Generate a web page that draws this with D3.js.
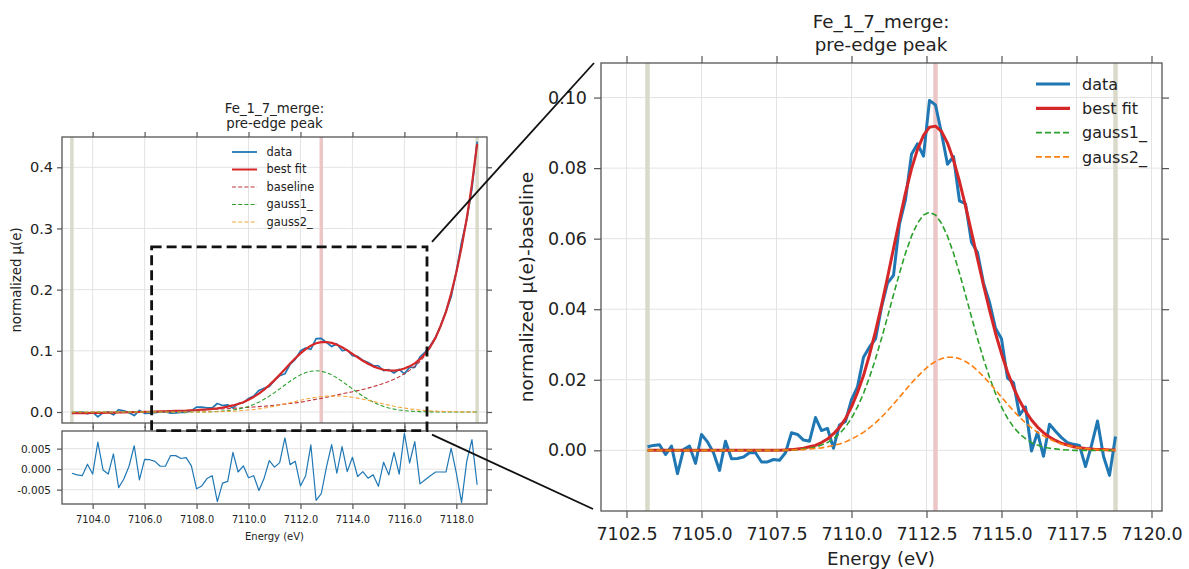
<!DOCTYPE html>
<html>
<head>
<meta charset="utf-8">
<script src="https://cdnjs.cloudflare.com/ajax/libs/d3/7.8.5/d3.min.js"></script>
<style>
  body { margin: 0; background: #fff; }
  svg { font-family: "DejaVu Sans", sans-serif; }
</style>
</head>
<body>
<svg id="chart" width="1189" height="569"></svg>
<script>
// Energy grid of the pre-edge scan (eV)
var energy = [
    7103.2, 7103.4, 7103.6, 7103.8, 7104.0, 7104.2, 7104.4, 7104.6, 7104.8, 7105.0,
    7105.2, 7105.4, 7105.6, 7105.8, 7106.0, 7106.2, 7106.4, 7106.6, 7106.8, 7107.0,
    7107.2, 7107.4, 7107.6, 7107.8, 7108.0, 7108.2, 7108.4, 7108.6, 7108.8, 7109.0,
    7109.2, 7109.4, 7109.6, 7109.8, 7110.0, 7110.2, 7110.4, 7110.6, 7110.8, 7111.0,
    7111.2, 7111.4, 7111.6, 7111.8, 7112.0, 7112.2, 7112.4, 7112.6, 7112.8, 7113.0,
    7113.2, 7113.4, 7113.6, 7113.8, 7114.0, 7114.2, 7114.4, 7114.6, 7114.8, 7115.0,
    7115.2, 7115.4, 7115.6, 7115.8, 7116.0, 7116.2, 7116.4, 7116.6, 7116.8, 7117.0,
    7117.2, 7117.4, 7117.6, 7117.8, 7118.0, 7118.2, 7118.4, 7118.6, 7118.8
];

// residual (best fit - data)
var residual = [
    -0.0010, -0.0014, -0.0016, 0.0012, -0.0012, 0.0066, -0.0002, -0.0012, 0.0037, -0.0045,
    -0.0024, 0.0007, 0.0057, -0.0026, 0.0024, 0.0023, 0.0019, 0.0007, 0.0007, 0.0033,
    0.0033, 0.0026, 0.0028, 0.0008, -0.0048, -0.0041, -0.0023, -0.0016, -0.0079, -0.0034,
    -0.0030, 0.0041, -0.0007, 0.0008, -0.0021, -0.0016, -0.0052, -0.0022, 0.0021, 0.0005,
    0.0016, 0.0076, 0.0011, 0.0019, -0.0041, -0.0016, 0.0059, -0.0076, -0.0060, 0.0005,
    0.0060, -0.0010, 0.0055, -0.0006, 0.0029, -0.0018, -0.0006, -0.0022, -0.0014, -0.0042,
    0.0017, -0.0014, 0.0041, -0.0012, 0.0088, 0.0015, 0.0067, -0.0036, -0.0026, -0.0016,
    -0.0007, -0.0007, -0.0007, 0.0051, -0.0010, -0.0081, 0.0019, 0.0072, -0.0038
];

// baseline (edge tail) under the pre-edge peak
var baseline = [
    -0.0020, -0.0019, -0.0018, -0.0017, -0.0016, -0.0015, -0.0013, -0.0012, -0.0010, -0.0008,
    -0.0006, -0.0004, -0.0002, 0.0000, 0.0002, 0.0004, 0.0007, 0.0009, 0.0012, 0.0014,
    0.0017, 0.0020, 0.0023, 0.0027, 0.0030, 0.0034, 0.0038, 0.0042, 0.0046, 0.0050,
    0.0055, 0.0060, 0.0065, 0.0070, 0.0076, 0.0082, 0.0088, 0.0095, 0.0102, 0.0110,
    0.0119, 0.0128, 0.0138, 0.0149, 0.0160, 0.0175, 0.0191, 0.0207, 0.0223, 0.0240,
    0.0259, 0.0278, 0.0297, 0.0314, 0.0330, 0.0349, 0.0369, 0.0390, 0.0414, 0.0440,
    0.0469, 0.0500, 0.0536, 0.0575, 0.0625, 0.0680, 0.0745, 0.0825, 0.0925, 0.1050,
    0.1200, 0.1400, 0.1630, 0.1930, 0.2280, 0.2690, 0.3160, 0.3720, 0.4380
];

// first gaussian component
var gauss1 = [
    0, 0, 0, 0, 0, 0, 0, 0, 0, 0,
    0, 0, 0, 0, 0, 0, 0, 0, 0, 0,
    0, 0, 0, 0, 0.0001, 0.0002, 0.0004, 0.0006, 0.0009, 0.0015,
    0.0022, 0.0033, 0.0047, 0.0066, 0.0091, 0.0123, 0.0161, 0.0207, 0.0259, 0.0317,
    0.0378, 0.0441, 0.0502, 0.0559, 0.0607, 0.0644, 0.0667, 0.0675, 0.0667, 0.0644,
    0.0607, 0.0559, 0.0502, 0.0441, 0.0378, 0.0317, 0.0259, 0.0207, 0.0161, 0.0123,
    0.0091, 0.0066, 0.0047, 0.0033, 0.0022, 0.0015, 0.0009, 0.0006, 0.0004, 0.0002,
    0.0001, 0, 0, 0, 0, 0, 0, 0, 0
];

// second gaussian component
var gauss2 = [
    0, 0, 0, 0, 0, 0, 0, 0, 0, 0,
    0, 0, 0, 0, 0, 0, 0, 0, 0, 0,
    0, 0, 0, 0.0001, 0.0001, 0.0002, 0.0002, 0.0004, 0.0005, 0.0007,
    0.0010, 0.0014, 0.0018, 0.0024, 0.0032, 0.0041, 0.0051, 0.0064, 0.0078, 0.0094,
    0.0112, 0.0131, 0.0151, 0.0171, 0.0191, 0.0209, 0.0226, 0.0241, 0.0252, 0.0260,
    0.0264, 0.0264, 0.0260, 0.0252, 0.0241, 0.0226, 0.0209, 0.0191, 0.0171, 0.0151,
    0.0131, 0.0112, 0.0094, 0.0078, 0.0064, 0.0051, 0.0041, 0.0032, 0.0024, 0.0018,
    0.0014, 0.0010, 0.0007, 0.0005, 0.0004, 0.0002, 0.0002, 0.0001, 0.0001
];

// fit range ends and peak centroid markers (eV)
var rangeMarkers = [7103.2, 7118.8];
var centroidMarker = [7112.8];

// tick values
var leftXTicks = [7104, 7106, 7108, 7110, 7112, 7114, 7116, 7118];
var leftYTicks = [0, 0.1, 0.2, 0.3, 0.4];
var residYTicks = [-0.005, 0, 0.005];
var peakXTicks = [7102.5, 7105, 7107.5, 7110, 7112.5, 7115, 7117.5, 7120];
var peakYTicks = [0, 0.02, 0.04, 0.06, 0.08, 0.10];

// zoom box drawn on the left panel (energy range, mu range)
var zoomEnergy = [7106.27, 7116.87];
var zoomMu = [-0.0305, 0.27];

// build the plotted series from the components
var peakFit = gauss1.map(function (d, i) { return d + gauss2[i]; });
var bestFit = peakFit.map(function (d, i) { return d + baseline[i]; });
var dataRaw = bestFit.map(function (d, i) { return d - residual[i]; });
var dataPeak = peakFit.map(function (d, i) { return d - residual[i]; });

var svg = d3.select("#chart");
var FONT = "DejaVu Sans, sans-serif";

// panel boxes in pixels
var leftBox = {left: 62, right: 487, top: 137, bottom: 423},
    residBox = {left: 62, right: 487, top: 431, bottom: 504},
    peakBox = {left: 601, right: 1162, top: 63, bottom: 511};

// scales
var xL = d3.scaleLinear().domain([7102.82, 7119.18]).range([leftBox.left, leftBox.right]);
var yL = d3.scaleLinear().domain([-0.018, 0.4495]).range([leftBox.bottom, leftBox.top]);
var yRes = d3.scaleLinear().domain([-0.0085, 0.0093]).range([residBox.bottom, residBox.top]);
var xP = d3.scaleLinear().domain([7101.65, 7120.35]).range([peakBox.left, peakBox.right]);
var yP = d3.scaleLinear().domain([-0.0172, 0.1098]).range([peakBox.bottom, peakBox.top]);

function drawGrid(box, x, y, xTicks, yTicks) {
    var g = svg.append("g");
    g.selectAll("line.gx").data(xTicks).enter().append("line")
        .attr("x1", function (d) { return x(d); })
        .attr("x2", function (d) { return x(d); })
        .attr("y1", box.top).attr("y2", box.bottom);
    g.selectAll("line.gy").data(yTicks).enter().append("line")
        .attr("class", "gy")
        .attr("x1", box.left).attr("x2", box.right)
        .attr("y1", function (d) { return y(d); })
        .attr("y2", function (d) { return y(d); });
    g.selectAll("line").attr("stroke", "#e3e3e3").attr("stroke-width", 1);
}

function drawMarkers(box, x, width) {
    var g = svg.append("g");
    g.selectAll("line.rm").data(rangeMarkers).enter().append("line")
        .attr("x1", function (d) { return x(d); })
        .attr("x2", function (d) { return x(d); })
        .attr("y1", box.top).attr("y2", box.bottom)
        .attr("stroke", "#dadacb").attr("stroke-width", width);
    g.selectAll("line.cm").data(centroidMarker).enter().append("line")
        .attr("x1", function (d) { return x(d); })
        .attr("x2", function (d) { return x(d); })
        .attr("y1", box.top).attr("y2", box.bottom)
        .attr("stroke", "#ecc6c6").attr("stroke-width", width);
}

function styleAxis(g, fs) {
    g.select(".domain").remove();
    g.attr("font-family", FONT).attr("font-size", fs);
    g.selectAll("line").attr("stroke", "#555").attr("stroke-width", 1.2);
    g.selectAll("text").attr("fill", "#222");
}

// frame + ticks on all four sides, labels on left (and bottom if asked)
function drawFrame(box, x, y, o) {
    var gl = svg.append("g").attr("transform", "translate(" + box.left + ",0)")
        .call(d3.axisLeft(y).tickValues(o.yTicks).tickSize(o.tick)
            .tickPadding(o.yPad).tickFormat(o.yFormat));
    styleAxis(gl, o.fs);
    var gr = svg.append("g").attr("transform", "translate(" + box.right + ",0)")
        .call(d3.axisRight(y).tickValues(o.yTicks).tickSize(o.tick).tickFormat(""));
    styleAxis(gr, o.fs);
    var gt = svg.append("g").attr("transform", "translate(0," + box.top + ")")
        .call(d3.axisTop(x).tickValues(o.xTicks).tickSize(o.tick).tickFormat(""));
    styleAxis(gt, o.fs);
    var gb = svg.append("g").attr("transform", "translate(0," + box.bottom + ")")
        .call(d3.axisBottom(x).tickValues(o.xTicks).tickSize(o.tick)
            .tickPadding(o.xPad).tickFormat(o.xFormat || ""));
    styleAxis(gb, o.xFs || o.fs);
    svg.append("rect")
        .attr("x", box.left).attr("y", box.top)
        .attr("width", box.right - box.left).attr("height", box.bottom - box.top)
        .attr("fill", "none").attr("stroke", "#555").attr("stroke-width", 1.3);
}

function drawSeries(values, x, y, color, width, dash) {
    var line = d3.line()
        .x(function (d, i) { return x(energy[i]); })
        .y(function (d) { return y(d); });
    svg.append("path").datum(values)
        .attr("d", line)
        .attr("fill", "none")
        .attr("stroke", color)
        .attr("stroke-width", width)
        .attr("stroke-linejoin", "round")
        .attr("stroke-dasharray", dash || null);
}

function drawLegend(items, x0, x1, xt, y0, dy, fs) {
    var g = svg.append("g");
    items.forEach(function (it, i) {
        var yy = y0 + i * dy;
        g.append("line").attr("x1", x0).attr("x2", x1).attr("y1", yy).attr("y2", yy)
            .attr("stroke", it.color).attr("stroke-width", it.width)
            .attr("stroke-dasharray", it.dash || null);
        g.append("text").attr("x", xt).attr("y", yy).attr("dy", "0.35em")
            .attr("font-family", FONT).attr("font-size", fs).attr("fill", "#222")
            .text(it.label);
    });
}

function text(x, y, str, fs, rotate) {
    var t = svg.append("text")
        .attr("font-family", FONT).attr("font-size", fs).attr("fill", "#222")
        .attr("text-anchor", "middle").text(str);
    if (rotate) {
        t.attr("transform", "translate(" + x + "," + y + ") rotate(-90)");
    } else {
        t.attr("x", x).attr("y", y);
    }
}

/* LEFT: full spectrum */
drawGrid(leftBox, xL, yL, leftXTicks, leftYTicks);
drawMarkers(leftBox, xL, 3.5);
drawSeries(dataRaw, xL, yL, "#1f77b4", 1.7);
drawSeries(bestFit, xL, yL, "#d62728", 2.2);
drawSeries(baseline, xL, yL, "#c0343a", 1.1, "4,2.2");
drawSeries(gauss1, xL, yL, "#2ca02c", 1.1, "4,2.2");
drawSeries(gauss2, xL, yL, "#f5a43a", 1.1, "4,2.2");
drawFrame(leftBox, xL, yL, {
    xTicks: leftXTicks, yTicks: leftYTicks, tick: 5, yPad: 4,
    yFormat: d3.format(".1f"), fs: 14.5
});
drawLegend([
    {label: "data", color: "#1f77b4", width: 1.8},
    {label: "best fit", color: "#d62728", width: 2},
    {label: "baseline", color: "#c0343a", width: 1.1, dash: "4,2.2"},
    {label: "gauss1_", color: "#2ca02c", width: 1.1, dash: "4,2.2"},
    {label: "gauss2_", color: "#f5a43a", width: 1.1, dash: "4,2.2"}
], 232, 257, 266.5, 152, 17.5, 11.4);
text(274.5, 113, "Fe_1_7_merge:", 13.3);
text(274.5, 128, "pre-edge peak", 13.3);
text(21, (leftBox.top + leftBox.bottom) / 2, "normalized \u03bc(e)", 13.3, true);

/* LEFT BOTTOM: residual */
drawGrid(residBox, xL, yRes, leftXTicks, residYTicks);
drawSeries(residual, xL, yRes, "#1f77b4", 1.2);
drawFrame(residBox, xL, yRes, {
    xTicks: leftXTicks, yTicks: residYTicks, tick: 5, yPad: 6, xPad: 7,
    yFormat: function (d) { return d.toFixed(3); },
    xFormat: d3.format(".1f"), fs: 10.5, xFs: 9.8
});
text(274.5, 540, "Energy (eV)", 10);

/* RIGHT: baseline-subtracted peak */
drawGrid(peakBox, xP, yP, peakXTicks, peakYTicks);
drawMarkers(peakBox, xP, 4.5);
drawSeries(dataPeak, xP, yP, "#1f77b4", 3);
drawSeries(peakFit, xP, yP, "#d62728", 3);
drawSeries(gauss1, xP, yP, "#2ca02c", 1.6, "6,3");
drawSeries(gauss2, xP, yP, "#ff7f0e", 1.6, "6,3");
drawFrame(peakBox, xP, yP, {
    xTicks: peakXTicks, yTicks: peakYTicks, tick: 7, yPad: 7, xPad: 10,
    yFormat: d3.format(".2f"), xFormat: d3.format(".1f"), fs: 17.5
});
drawLegend([
    {label: "data", color: "#1f77b4", width: 3.2},
    {label: "best fit", color: "#d62728", width: 3.2},
    {label: "gauss1_", color: "#2ca02c", width: 1.6, dash: "6,3"},
    {label: "gauss2_", color: "#ff7f0e", width: 1.6, dash: "6,3"}
], 1036, 1070, 1082, 84, 24.3, 16);
text(881, 28, "Fe_1_7_merge:", 18.3);
text(881, 50.5, "pre-edge peak", 18.3);
text(881, 565, "Energy (eV)", 18.3);
text(533, (peakBox.top + peakBox.bottom) / 2, "normalized \u03bc(e)-baseline", 18.5, true);

/* zoom box and connectors */
var zx0 = xL(zoomEnergy[0]), zx1 = xL(zoomEnergy[1]),
    zy0 = yL(zoomMu[1]), zy1 = yL(zoomMu[0]);
svg.append("rect")
    .attr("x", zx0).attr("y", zy0)
    .attr("width", zx1 - zx0).attr("height", zy1 - zy0)
    .attr("fill", "none").attr("stroke", "#111")
    .attr("stroke-width", 2.8).attr("stroke-dasharray", "10,5");
svg.append("line")
    .attr("x1", zx1 + 5).attr("y1", zy0 - 5)
    .attr("x2", peakBox.left - 7).attr("y2", peakBox.top)
    .attr("stroke", "#111").attr("stroke-width", 1.8);
svg.append("line")
    .attr("x1", zx1 + 5).attr("y1", zy1 + 4)
    .attr("x2", peakBox.left - 8).attr("y2", peakBox.bottom - 2)
    .attr("stroke", "#111").attr("stroke-width", 1.8);
</script>
</body>
</html>
